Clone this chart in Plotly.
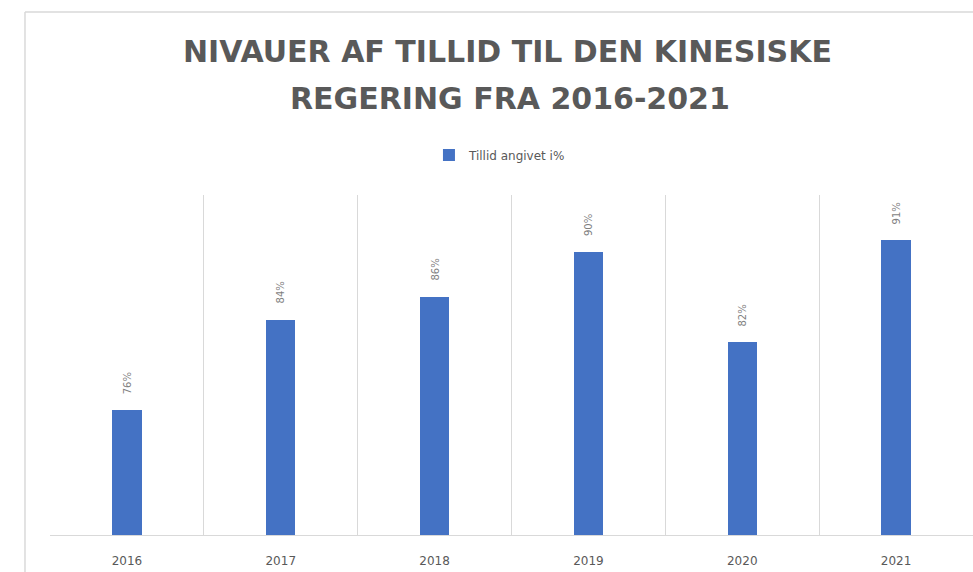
import plotly.graph_objects as go

years = ["2016", "2017", "2018", "2019", "2020", "2021"]
trust = [76, 84, 86, 90, 82, 91]
labels = ["76%", "84%", "86%", "90%", "82%", "91%"]
series_name = "Tillid angivet i%"
title_lines = ["NIVAUER AF TILLID TIL DEN KINESISKE", "REGERING FRA 2016-2021"]

GRAY = "#595959"
GRID = "#d9d9d9"
BLUE = "#4472C4"
FONT = "DejaVu Sans, sans-serif"

fig = go.Figure()
fig.add_trace(go.Bar(
    x=years, y=trust, name=series_name,
    marker=dict(color=BLUE, line=dict(width=0)),
    width=0.19,
    showlegend=True,
))

for i, (v, lab) in enumerate(zip(trust, labels)):
    fig.add_annotation(
        x=i, y=v, xref="x", yref="y", text=lab, textangle=-90, showarrow=False,
        yanchor="bottom", yshift=14,
        font=dict(family=FONT, size=10, color="#7f7f7f"),
    )

# title as two centred lines
fig.add_annotation(xref="paper", yref="paper", x=0.496, y=1.4206,
                   xanchor="center", yanchor="middle", showarrow=False,
                   text="<b>" + title_lines[0] + "</b>",
                   font=dict(family=FONT, size=30, color=GRAY))
fig.add_annotation(xref="paper", yref="paper", x=0.498, y=1.285,
                   xanchor="center", yanchor="middle", showarrow=False,
                   text="<b>" + title_lines[1] + "</b>",
                   font=dict(family=FONT, size=30, color=GRAY))

# outer chart border (left and top)
fig.add_shape(type="line", xref="paper", yref="paper",
              x0=-0.0271, x1=-0.0271, y0=-0.2, y1=1.538,
              line=dict(color=GRID, width=1.5))
fig.add_shape(type="line", xref="paper", yref="paper",
              x0=-0.0271, x1=1.05, y0=1.538, y1=1.538,
              line=dict(color=GRID, width=1.5))

fig.update_layout(
    width=973, height=572,
    margin=dict(l=50, r=0, t=195, b=37),
    paper_bgcolor="white", plot_bgcolor="white",
    legend=dict(
        orientation="h", x=0.4875, xanchor="center", y=1.118, yanchor="middle",
        font=dict(family=FONT, size=12, color=GRAY),
        itemwidth=30,
    ),
    xaxis=dict(
        type="category", tickson="boundaries", showgrid=True, gridcolor=GRID,
        gridwidth=1, ticks="", showline=True, linecolor=GRID,
        tickfont=dict(family=FONT, size=12, color=GRAY),
        ticklabelstandoff=15, range=[-0.5, 5.5],
    ),
    yaxis=dict(
        range=[65, 95], showgrid=False, showticklabels=False, zeroline=False,
        showline=False, ticks="",
    ),
    bargap=0,
)

fig.write_html("out.html", config={"displayModeBar": False},
               post_script="document.body.style.margin='0';document.body.style.overflow='hidden';")
